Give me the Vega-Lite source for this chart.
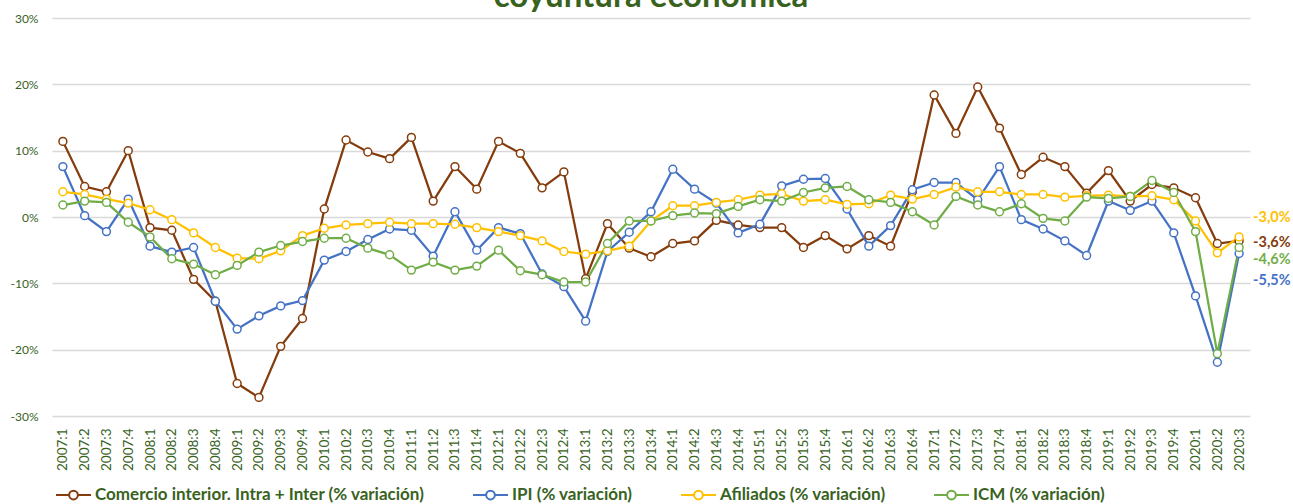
{
  "$schema": "https://vega.github.io/schema/vega-lite/v6.json",
  "width": 1198,
  "height": 398,
  "autosize": "none",
  "padding": {"left": 52, "top": 18, "right": 43, "bottom": 88},
  "background": "white",
  "config": {
    "view": {"stroke": null},
    "font": "Lato",
    "locale": {
      "number": {"decimal": ",", "thousands": ".", "grouping": [3], "currency": ["", "%"], "minus": "-"},
      "time": {"dateTime": "%x, %X", "date": "%-m/%-d/%Y", "time": "%-I:%M:%S %p", "periods": ["AM", "PM"], "days": ["Sunday", "Monday", "Tuesday", "Wednesday", "Thursday", "Friday", "Saturday"], "shortDays": ["Sun", "Mon", "Tue", "Wed", "Thu", "Fri", "Sat"], "months": ["January", "February", "March", "April", "May", "June", "July", "August", "September", "October", "November", "December"], "shortMonths": ["Jan", "Feb", "Mar", "Apr", "May", "Jun", "Jul", "Aug", "Sep", "Oct", "Nov", "Dec"]}
    }
  },
  "datasets": {
    "series": [
      {"q": "2007:1", "C": 11.4, "I": 7.6, "A": 3.8, "M": 1.8},
      {"q": "2007:2", "C": 4.6, "I": 0.2, "A": 3.4, "M": 2.4},
      {"q": "2007:3", "C": 3.8, "I": -2.2, "A": 2.7, "M": 2.2},
      {"q": "2007:4", "C": 10.0, "I": 2.7, "A": 2.1, "M": -0.8},
      {"q": "2008:1", "C": -1.6, "I": -4.4, "A": 1.1, "M": -3.0},
      {"q": "2008:2", "C": -2.0, "I": -5.3, "A": -0.4, "M": -6.3},
      {"q": "2008:3", "C": -9.4, "I": -4.6, "A": -2.4, "M": -7.1},
      {"q": "2008:4", "C": -12.7, "I": -12.7, "A": -4.6, "M": -8.7},
      {"q": "2009:1", "C": -25.1, "I": -16.9, "A": -6.2, "M": -7.3},
      {"q": "2009:2", "C": -27.2, "I": -14.9, "A": -6.3, "M": -5.3},
      {"q": "2009:3", "C": -19.5, "I": -13.4, "A": -5.1, "M": -4.3},
      {"q": "2009:4", "C": -15.3, "I": -12.6, "A": -2.8, "M": -3.7},
      {"q": "2010:1", "C": 1.2, "I": -6.5, "A": -1.7, "M": -3.2},
      {"q": "2010:2", "C": 11.6, "I": -5.2, "A": -1.2, "M": -3.2},
      {"q": "2010:3", "C": 9.8, "I": -3.4, "A": -1.0, "M": -4.7},
      {"q": "2010:4", "C": 8.8, "I": -1.8, "A": -0.8, "M": -5.7},
      {"q": "2011:1", "C": 12.0, "I": -2.0, "A": -1.0, "M": -8.0},
      {"q": "2011:2", "C": 2.4, "I": -5.9, "A": -1.0, "M": -6.8},
      {"q": "2011:3", "C": 7.6, "I": 0.8, "A": -1.1, "M": -8.0},
      {"q": "2011:4", "C": 4.2, "I": -5.0, "A": -1.6, "M": -7.4},
      {"q": "2012:1", "C": 11.4, "I": -1.6, "A": -2.2, "M": -5.0},
      {"q": "2012:2", "C": 9.6, "I": -2.5, "A": -2.8, "M": -8.1},
      {"q": "2012:3", "C": 4.4, "I": -8.6, "A": -3.6, "M": -8.7},
      {"q": "2012:4", "C": 6.8, "I": -10.5, "A": -5.2, "M": -9.8},
      {"q": "2013:1", "C": -9.3, "I": -15.7, "A": -5.6, "M": -9.8},
      {"q": "2013:2", "C": -1.0, "I": -5.2, "A": -5.1, "M": -4.0},
      {"q": "2013:3", "C": -4.7, "I": -2.3, "A": -4.4, "M": -0.6},
      {"q": "2013:4", "C": -6.0, "I": 0.8, "A": -0.6, "M": -0.6},
      {"q": "2014:1", "C": -4.0, "I": 7.2, "A": 1.7, "M": 0.2},
      {"q": "2014:2", "C": -3.6, "I": 4.2, "A": 1.7, "M": 0.6},
      {"q": "2014:3", "C": -0.5, "I": 2.1, "A": 2.2, "M": 0.5},
      {"q": "2014:4", "C": -1.2, "I": -2.4, "A": 2.6, "M": 1.6},
      {"q": "2015:1", "C": -1.6, "I": -1.1, "A": 3.3, "M": 2.6},
      {"q": "2015:2", "C": -1.6, "I": 4.7, "A": 3.5, "M": 2.4},
      {"q": "2015:3", "C": -4.6, "I": 5.7, "A": 2.4, "M": 3.7},
      {"q": "2015:4", "C": -2.8, "I": 5.8, "A": 2.6, "M": 4.4},
      {"q": "2016:1", "C": -4.8, "I": 1.2, "A": 1.9, "M": 4.6},
      {"q": "2016:2", "C": -2.8, "I": -4.4, "A": 2.0, "M": 2.6},
      {"q": "2016:3", "C": -4.4, "I": -1.3, "A": 3.3, "M": 2.2},
      {"q": "2016:4", "C": 3.8, "I": 4.1, "A": 2.7, "M": 0.8},
      {"q": "2017:1", "C": 18.4, "I": 5.2, "A": 3.4, "M": -1.2},
      {"q": "2017:2", "C": 12.6, "I": 5.2, "A": 4.5, "M": 3.1},
      {"q": "2017:3", "C": 19.6, "I": 2.6, "A": 3.8, "M": 1.8},
      {"q": "2017:4", "C": 13.4, "I": 7.6, "A": 3.8, "M": 0.8},
      {"q": "2018:1", "C": 6.4, "I": -0.4, "A": 3.4, "M": 2.0},
      {"q": "2018:2", "C": 9.0, "I": -1.8, "A": 3.4, "M": -0.2},
      {"q": "2018:3", "C": 7.6, "I": -3.6, "A": 3.0, "M": -0.6},
      {"q": "2018:4", "C": 3.6, "I": -5.8, "A": 3.2, "M": 3.0},
      {"q": "2019:1", "C": 7.0, "I": 2.4, "A": 3.3, "M": 2.8},
      {"q": "2019:2", "C": 2.4, "I": 1.0, "A": 3.1, "M": 3.1},
      {"q": "2019:3", "C": 4.9, "I": 2.4, "A": 3.2, "M": 5.5},
      {"q": "2019:4", "C": 4.4, "I": -2.4, "A": 2.6, "M": 3.7},
      {"q": "2020:1", "C": 2.9, "I": -11.9, "A": -0.6, "M": -2.2},
      {"q": "2020:2", "C": -4.0, "I": -21.9, "A": -5.4, "M": -20.6},
      {"q": "2020:3", "C": -3.6, "I": -5.5, "A": -3.0, "M": -4.6}
    ],
    "titulo": [{"t": "coyuntura económica"}]
  },
  "layer": [
    {
      "data": {"name": "series"},
      "transform": [{"fold": ["C", "I", "A", "M"], "as": ["s", "v"]}],
      "mark": {"type": "line", "strokeWidth": 2.25, "point": {"filled": false, "fill": "white", "size": 62, "strokeWidth": 1.5}},
      "encoding": {
        "x": {"field": "q", "type": "ordinal", "sort": null,
          "axis": {"title": null, "labelAngle": 270, "domain": false, "ticks": false, "grid": false, "labelColor": "#38621E", "labelFontSize": 13.5, "labelPadding": 12, "labelFont": "Lato"}},
        "y": {"field": "v", "type": "quantitative", "scale": {"domain": [-30, 30], "nice": false, "zero": false},
          "axis": {"title": null, "values": [-30, -20, -10, 0, 10, 20, 30], "format": "$.0f", "grid": true, "gridColor": "#d9d9d9", "gridWidth": 1.3, "domain": false, "ticks": false, "labelPadding": 14, "labelColor": "#38621E", "labelFontSize": 12, "labelFont": "Lato"}},
        "color": {"field": "s", "type": "nominal",
          "scale": {"domain": ["C", "I", "A", "M"], "range": ["#843C0C", "#4472C4", "#FFC000", "#70AD47"]},
          "legend": {"title": null, "orient": "none", "direction": "horizontal", "legendX": 3, "legendY": 458.5,
            "labelExpr": "{'C': 'Comercio interior. Intra + Inter (% variación)', 'I': 'IPI (% variación)', 'A': 'Afiliados (% variación)', 'M': 'ICM (% variación)'}[datum.label]",
            "symbolType": "M-1,0H-0.25M0.25,0H1M-0.25,0A0.25,0.25 0 1,0 0.25,0A0.25,0.25 0 1,0 -0.25,0Z",
            "symbolSize": 1225, "symbolStrokeWidth": 2, "symbolFillColor": "white",
            "labelFontSize": 17, "labelFontWeight": "bold", "labelColor": "#38621E", "labelFont": "Lato", "labelLimit": 600, "labelOffset": 3, "columnPadding": 44}}
      }
    },
    {
      "data": {"name": "series"},
      "transform": [{"fold": ["A"], "as": ["s", "v"]}, {"filter": "datum.q == '2020:3'"}],
      "mark": {"type": "text", "align": "left", "dx": 14, "dy": -19, "fontSize": 14.5, "fontWeight": "bold", "font": "Lato", "color": "#FFC000"},
      "encoding": {"x": {"field": "q", "type": "ordinal", "sort": null}, "y": {"field": "v", "type": "quantitative"}, "text": {"field": "v", "type": "quantitative", "format": "$.1f"}}
    },
    {
      "data": {"name": "series"},
      "transform": [{"fold": ["C"], "as": ["s", "v"]}, {"filter": "datum.q == '2020:3'"}],
      "mark": {"type": "text", "align": "left", "dx": 14, "dy": 2, "fontSize": 14.5, "fontWeight": "bold", "font": "Lato", "color": "#843C0C"},
      "encoding": {"x": {"field": "q", "type": "ordinal", "sort": null}, "y": {"field": "v", "type": "quantitative"}, "text": {"field": "v", "type": "quantitative", "format": "$.1f"}}
    },
    {
      "data": {"name": "series"},
      "transform": [{"fold": ["M"], "as": ["s", "v"]}, {"filter": "datum.q == '2020:3'"}],
      "mark": {"type": "text", "align": "left", "dx": 14, "dy": 12.5, "fontSize": 14.5, "fontWeight": "bold", "font": "Lato", "color": "#70AD47"},
      "encoding": {"x": {"field": "q", "type": "ordinal", "sort": null}, "y": {"field": "v", "type": "quantitative"}, "text": {"field": "v", "type": "quantitative", "format": "$.1f"}}
    },
    {
      "data": {"name": "series"},
      "transform": [{"fold": ["I"], "as": ["s", "v"]}, {"filter": "datum.q == '2020:3'"}],
      "mark": {"type": "text", "align": "left", "dx": 14, "dy": 27.5, "fontSize": 14.5, "fontWeight": "bold", "font": "Lato", "color": "#4472C4"},
      "encoding": {"x": {"field": "q", "type": "ordinal", "sort": null}, "y": {"field": "v", "type": "quantitative"}, "text": {"field": "v", "type": "quantitative", "format": "$.1f"}}
    },
    {
      "data": {"name": "titulo"},
      "mark": {"type": "text", "align": "center", "baseline": "alphabetic", "fontSize": 33, "fontWeight": "bold", "font": "Lato", "color": "#38621E"},
      "encoding": {"text": {"field": "t", "type": "nominal"}, "x": {"datum": "2013:4", "type": "ordinal"}, "y": {"datum": 31.7, "type": "quantitative"}}
    }
  ]
}
